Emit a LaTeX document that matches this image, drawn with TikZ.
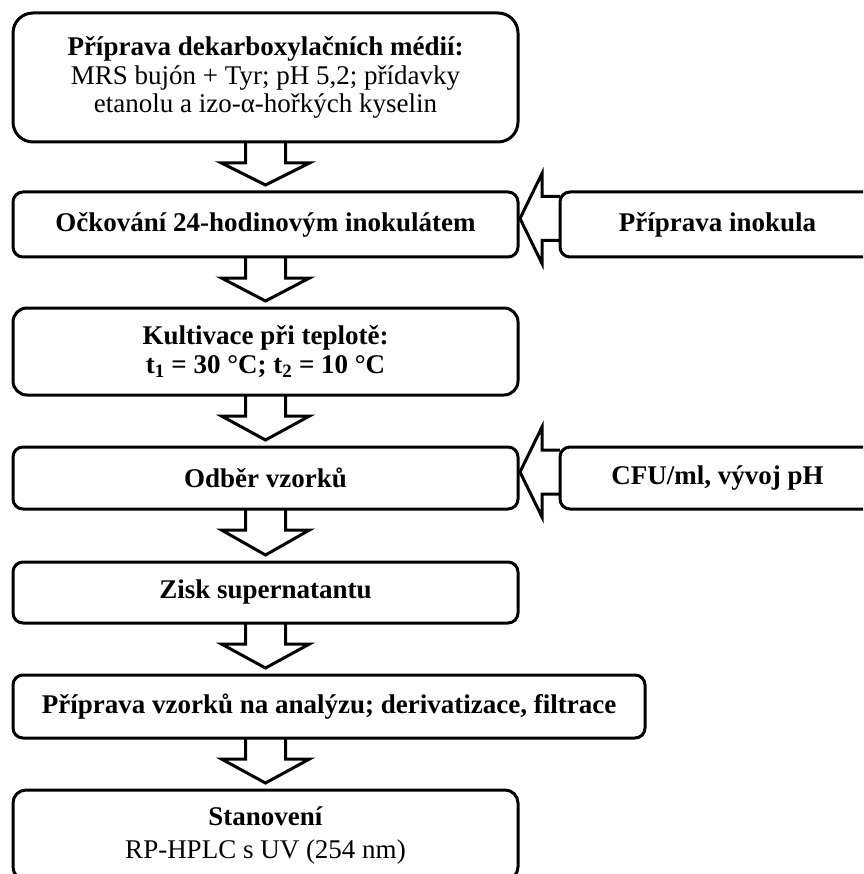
\documentclass[tikz,border=0pt]{standalone}
\usepackage{fontspec}
\setmainfont{Liberation Serif}
\usetikzlibrary{calc}

\newcommand{\downblock}[2]{%
  \draw ($(media.south |- #1.south)+(-20,0)$) -- ++(0,21) -- ++(-24,0)
    -- ($(media.south |- #2.north)+(0,-7)$)
    -- ($(media.south |- #1.south)+(44,21)$) -- ++(-24,0) -- ++(0,-21);}
\newcommand{\leftblock}[2]{%
  \draw ($(#1.west)+(0,-28)$) -- ++(-18,0) -- ++(0,-23)
    -- ($(#2.east)+(2,-6)$)
    -- ($(#1.west)+(-18,39)$) -- ++(0,-23) -- ++(18,0);}

\begin{document}
\begin{tikzpicture}[x=1pt,y=-1pt,line width=3pt,line join=miter]

      \useasboundingbox (0,0) rectangle (863,874);
      \clip (0,0) rectangle (863,874);

      \begin{scope}[every node/.style={draw,rounded corners=10pt,outer sep=0pt,inner sep=0pt,
          align=center,minimum width=505pt,font=\fontsize{27}{28.5}\selectfont}]
        \node[minimum height=129pt,rounded corners=20pt] (media) at (265.5,77.5)
          {\textbf{Příprava dekarboxylačních médií:}\\ MRS bujón + Tyr; pH 5,2; přídavky\\ etanolu a izo-α-hořkých kyselin};
        \node[minimum height=65pt] (ockovani) at (265.5,224.5) {\textbf{Očkování 24-hodinovým inokulátem}};
        \node[minimum height=87pt,rounded corners=14pt] (kultivace) at (265.5,351.5)
          {\textbf{Kultivace při teplotě:}\\ \textbf{t\textsubscript{1} = 30 °C; t\textsubscript{2} = 10 °C}};
        \node[minimum height=62pt] (odber) at (265.5,478) {\textbf{Odběr vzorků}};
        \node[minimum height=61pt] (zisk) at (265.5,592.5) {\textbf{Zisk supernatantu}};
        \node[minimum height=63pt,minimum width=632pt] (analyza) at (329,706.5)
          {\textbf{Příprava vzorků na analýzu; derivatizace, filtrace}};
        \node[minimum height=90pt,rounded corners=13pt] (stanoveni) at (265.5,835)
          {\textbf{Stanovení}\\[4.5pt] RP-HPLC s UV (254 nm)};
        \node[minimum height=65pt,minimum width=315pt] (inokulum) at (717.5,224.5) {\textbf{Příprava inokula}};
        \node[minimum height=62pt,minimum width=315pt] (cfu) at (717.5,478) {\textbf{CFU/ml, vývoj pH}};
      \end{scope}

      \downblock{media}{ockovani}
      \downblock{ockovani}{kultivace}
      \downblock{kultivace}{odber}
      \downblock{odber}{zisk}
      \downblock{zisk}{analyza}
      \downblock{analyza}{stanoveni}
      \leftblock{inokulum}{ockovani}
      \leftblock{cfu}{odber}

    \end{tikzpicture}
\end{document}
